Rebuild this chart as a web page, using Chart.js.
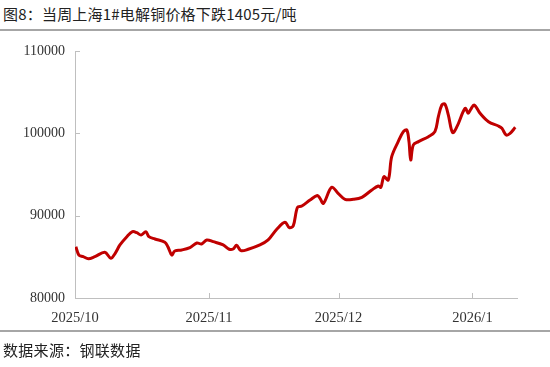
<!DOCTYPE html>
<html><head><meta charset="utf-8">
<script src="https://cdn.jsdelivr.net/npm/chart.js@4.4.1/dist/chart.umd.min.js"></script>
<style>
html,body{margin:0;padding:0;background:#fff;}
#wrap{position:relative;width:550px;height:367px;overflow:hidden;background:#fff;}
#title{position:absolute;left:3px;top:4px;font:15px "Noto Sans CJK SC",sans-serif;color:#222;white-space:nowrap;line-height:20px;letter-spacing:0.2px;}
#rule1{position:absolute;left:0;top:29px;width:550px;height:2px;background:#a6a6a6;}
#rule2{position:absolute;left:0;top:330px;width:550px;height:2px;background:#a6a6a6;}
#source{position:absolute;left:3px;top:340px;font:15px "Noto Sans CJK SC",sans-serif;color:#222;white-space:nowrap;line-height:20px;letter-spacing:0.3px;}
#c{position:absolute;left:0;top:0;}
</style></head>
<body>
<div id="wrap">
<div id="title">图8：当周上海1#电解铜价格下跌1405元/吨</div>
<div id="rule1"></div>
<canvas id="c" width="550" height="367"></canvas>
<div id="rule2"></div>
<div id="source">数据来源：钢联数据</div>
</div>
<script>
// days after 2025-10-01
const dayOffsets = [0.2,0.9,1.9,3.1,4.6,6.9,8.3,9.3,10.4,12.0,
13.3,14.3,15.3,16.4,17.1,18.5,20.8,21.5,22.4,23.1,
24.7,26.6,28.2,29.3,30.5,32.0,34.3,35.7,36.6,37.4,
38.4,40.1,42.8,44.7,46.7,48.6,49.6,50.5,51.5,52.5,
54.4,56.1,56.7,57.5,59.4,60.9,62.5,64.4,66.4,68.7,
70.2,70.8,71.5,72.5,73.3,74.8,76.0,76.8,77.3,77.7,
78.3,79.5,81.8,83.3,84.1,84.9,85.6,86.4,87.4,88.4,
90.3,91.0,91.6,92.4,93.75,95.7,98.0,98.8,99.8,100.7,
101.9];
const prices = [86230,85220,85020,84770,85020,85550,84820,85430,86440,87450,
88050,87930,87650,88050,87450,87170,86770,86230,85220,85710,
85830,86130,86680,86560,87050,86840,86440,85920,85950,86400,
85750,85920,86440,87050,88340,89200,88540,88750,91020,91170,
91900,92450,92110,91500,93450,92720,91990,91990,92230,93120,
93600,93450,94730,94330,97160,98990,100200,100400,98990,96760,
98580,98990,99590,100200,102020,103440,103560,102230,100080,100810,
103040,102430,102920,103440,102430,101410,100890,100610,99800,100000,
100730];
const tickDays = [0,31,61,92];
const tickLabels = ['2025/10','2025/11','2025/12','2026/1'];
const xMaxDay = 102.3;
const yMin = 80000, yMax = 110000, yStep = 10000;

const insideTicks = {
  id:'insideTicks',
  afterDraw(chart){
    const ctx = chart.ctx, x = chart.scales.x, y = chart.scales.y, a = chart.chartArea;
    ctx.save();
    ctx.strokeStyle = '#bfbfbf'; ctx.lineWidth = 1;
    y.ticks.forEach(t=>{
      const py = Math.round(y.getPixelForValue(t.value))+0.5;
      ctx.beginPath(); ctx.moveTo(a.left, py); ctx.lineTo(a.left+5, py); ctx.stroke();
    });
    x.ticks.forEach(t=>{
      const px = Math.round(x.getPixelForValue(t.value))+0.5;
      ctx.beginPath(); ctx.moveTo(px, a.bottom); ctx.lineTo(px, a.bottom-5); ctx.stroke();
    });
    ctx.restore();
  }
};

new Chart(document.getElementById('c'), {
  type:'line',
  data:{datasets:[{
    data: dayOffsets.map((d,i)=>({x:d,y:prices[i]})),
    borderColor:'#c00000', borderWidth:3, pointRadius:0, tension:0.35, fill:false
  }]},
  options:{
    responsive:false, animation:false,
    layout:{padding:{top:51,right:33,bottom:0,left:0}},
    plugins:{legend:{display:false},tooltip:{enabled:false}},
    scales:{
      x:{type:'linear', min:0, max:xMaxDay,
        afterFit(s){ s.height = 69; },
        afterBuildTicks(s){ s.ticks = tickDays.map(v=>({value:v})); },
        grid:{display:true, drawOnChartArea:false, drawTicks:false},
        border:{display:true, color:'#bfbfbf', width:1},
        ticks:{padding:11, color:'#333', maxRotation:0, autoSkip:false,
          font:{family:'"Liberation Serif", serif', size:14.5},
          callback:(v)=>{ const i = tickDays.indexOf(v); return i>=0 ? tickLabels[i] : ''; }}
      },
      y:{min:yMin, max:yMax,
        afterFit(s){ s.width = 75; },
        grid:{display:true, drawOnChartArea:false, drawTicks:false},
        border:{display:true, color:'#bfbfbf', width:1},
        ticks:{stepSize:yStep, padding:10, color:'#333',
          font:{family:'"Liberation Serif", serif', size:14},
          callback:(v)=>String(v)}
      }
    }
  },
  plugins:[insideTicks]
});
</script>
</body></html>
